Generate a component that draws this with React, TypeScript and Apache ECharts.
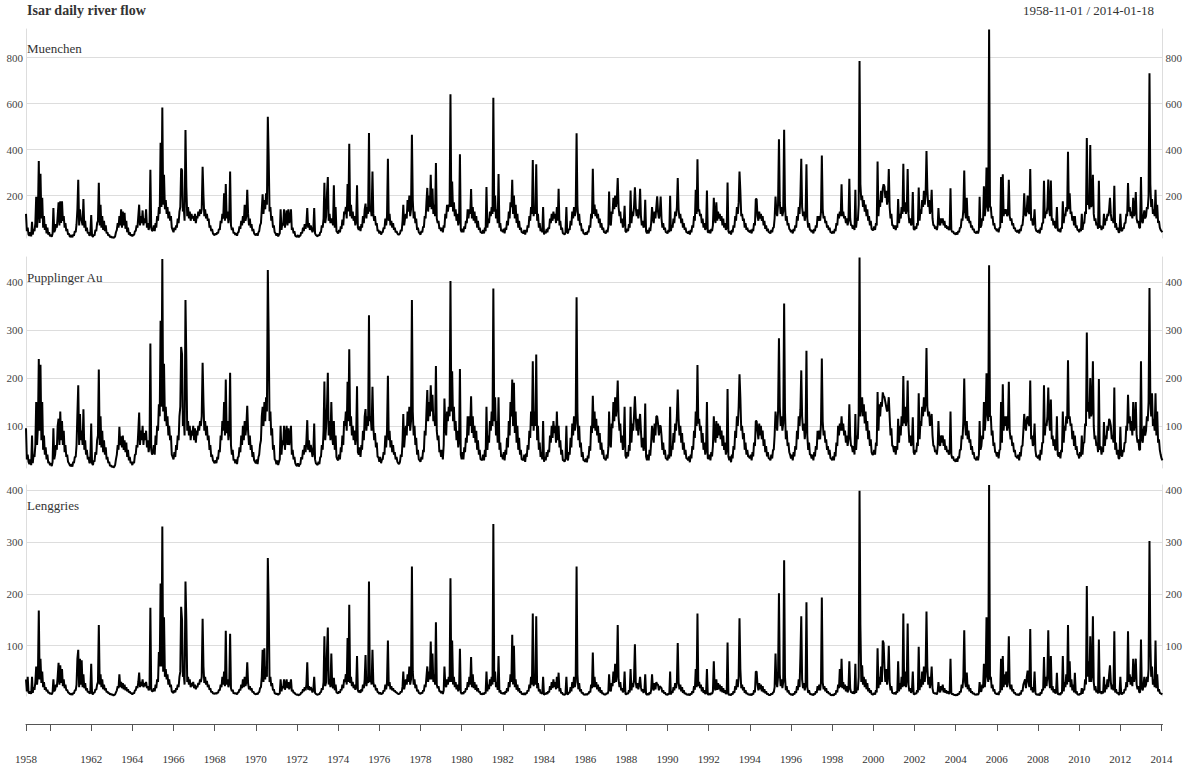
import React, { useEffect, useRef } from "react";
import * as echarts from "echarts";

// ---- data: semi-monthly readings (1st and 16th of each month), one row per year ----
const firstYear = 1958;
const firstSlot = 20; // 1958 row starts on Nov 1
const startDate = "1958-11-01";
const endDate = "2014-01-18";
const seriesNames = ["Muenchen", "Pupplinger Au", "Lenggries"];

const muenchen: number[][] = [
  [120,45,60,30],
  [25,40,22,85,30,55,45,80,195,60,130,350,80,295,100,190,60,110,50,75,35,60,30,40],
  [22,30,20,35,145,40,50,75,60,110,170,70,175,80,175,90,110,60,80,45,55,30,35,22],
  [20,28,18,30,25,45,40,75,140,268,70,140,100,90,70,185,60,90,45,60,35,40,25,30],
  [115,25,20,30,25,50,45,80,90,255,70,160,60,110,50,90,45,70,35,40,25,30,18,22],
  [16,20,15,18,22,40,50,80,60,110,70,140,60,130,70,125,55,90,40,60,30,40,25,30],
  [22,30,28,45,45,70,60,110,160,70,110,80,135,70,100,80,140,60,80,50,70,312,60,45],
  [50,70,45,80,60,110,90,150,120,430,150,583,160,290,140,180,120,150,100,130,90,110,60,50],
  [40,60,50,70,60,100,80,130,150,318,310,130,150,90,485,240,110,150,100,130,90,120,100,110],
  [90,120,80,110,100,130,110,140,120,140,325,200,110,140,100,120,90,100,60,70,45,55,35,30],
  [28,35,30,40,35,55,50,90,80,120,100,210,90,250,100,130,80,110,305,70,50,60,35,40],
  [28,35,25,40,40,65,55,90,70,110,80,160,90,110,225,120,70,100,60,75,45,55,35,30],
  [28,35,25,40,45,70,80,140,205,120,180,140,210,160,543,370,130,150,90,110,60,70,40,35],
  [25,35,22,30,35,140,50,80,70,140,60,100,135,70,140,80,100,140,50,60,35,45,25,22],
  [20,28,18,25,25,40,35,60,45,75,55,80,145,60,80,50,70,55,40,50,145,35,28,25],
  [22,30,25,40,40,70,60,100,255,80,110,210,280,90,120,80,100,90,70,245,60,150,45,40],
  [35,50,40,65,55,95,70,130,120,150,100,250,130,425,110,160,100,130,90,110,70,90,245,60],
  [50,65,45,75,60,110,80,140,165,100,150,120,472,130,150,110,305,120,90,110,70,80,45,50],
  [35,45,30,40,40,60,55,100,70,110,360,90,120,70,90,60,80,50,60,40,45,35,30,30],
  [35,50,45,90,160,70,100,120,100,180,130,200,110,140,464,180,100,130,80,100,50,60,40,35],
  [30,45,40,65,60,110,100,170,233,130,200,150,290,140,230,120,160,110,341,100,80,90,55,60],
  [45,60,40,70,60,120,100,160,130,160,150,641,150,261,130,170,110,140,90,120,70,90,380,50],
  [40,55,40,65,55,90,80,140,100,140,120,228,100,150,90,130,80,110,60,90,50,60,40,40],
  [35,50,35,60,45,237,60,100,80,130,110,150,120,626,130,200,100,140,80,294,60,80,45,50],
  [40,55,35,60,50,90,70,130,100,170,150,268,120,200,100,160,80,120,60,90,50,60,40,40],
  [35,50,30,50,40,70,60,110,90,150,120,355,110,150,120,336,90,120,60,80,45,55,40,150],
  [30,45,35,55,40,60,55,100,80,120,90,130,100,120,80,150,90,229,70,90,50,60,35,35],
  [30,40,150,40,35,55,50,90,70,130,100,150,110,130,471,160,90,120,70,80,45,55,35,35],
  [30,40,30,45,40,70,60,120,100,316,120,160,110,140,100,120,80,100,60,80,50,60,40,40],
  [35,50,40,65,217,80,70,130,120,190,140,200,150,180,276,150,110,130,80,100,60,80,155,45],
  [40,55,45,75,60,222,80,130,110,150,236,150,110,140,100,130,229,110,70,90,60,70,181,45],
  [35,50,35,60,45,80,150,100,80,130,100,150,196,130,100,120,195,100,60,80,50,60,40,40],
  [35,50,40,199,45,70,60,100,80,130,110,150,276,140,100,120,80,100,60,80,50,60,40,40],
  [35,45,30,50,40,70,60,110,90,225,120,358,130,140,110,120,80,100,60,80,50,60,222,40],
  [40,50,35,55,45,70,190,100,80,170,90,130,100,120,90,110,70,100,60,80,50,60,257,45],
  [35,45,30,50,40,70,60,110,90,150,120,170,304,220,110,120,90,100,60,80,50,60,45,45],
  [40,50,35,55,45,80,70,185,185,110,90,130,100,120,90,110,70,90,55,70,45,55,40,40],
  [35,50,40,60,60,100,195,130,110,160,445,170,120,150,110,130,486,160,90,110,70,80,55,50],
  [40,50,35,55,45,70,60,110,90,150,120,200,360,150,110,130,90,120,336,100,60,80,50,50],
  [40,50,35,55,45,70,60,110,90,110,90,130,374,140,100,110,80,90,60,70,50,60,40,40],
  [35,45,35,55,45,80,70,120,100,130,110,249,110,130,100,110,80,100,70,90,273,100,70,70],
  [55,70,50,225,60,100,90,160,786,250,180,200,150,180,130,160,110,140,90,110,70,90,55,50],
  [50,65,50,80,70,348,110,180,150,220,170,230,249,240,190,220,160,190,315,150,100,120,70,70],
  [55,70,50,70,60,185,80,120,100,150,120,338,130,170,120,140,315,120,80,100,70,80,215,55],
  [50,65,55,80,70,235,90,140,120,180,150,220,160,200,394,230,150,180,120,140,225,100,70,70],
  [55,65,50,70,145,80,70,100,80,100,70,90,60,70,55,65,50,55,232,50,40,45,35,35],
  [30,40,30,45,40,60,60,100,90,140,309,130,100,190,90,110,80,90,60,70,50,55,40,40],
  [35,45,35,50,195,60,70,100,90,240,110,150,322,160,130,923,150,150,100,110,70,80,55,55],
  [45,55,40,60,60,280,80,293,110,140,120,140,110,120,268,110,90,100,70,80,55,60,45,45],
  [40,50,35,55,45,70,70,110,210,120,110,140,200,130,120,315,90,100,70,80,140,60,45,45],
  [40,50,35,60,50,80,80,264,100,130,120,150,270,140,110,265,90,100,70,90,60,60,150,50],
  [45,55,40,60,55,175,80,120,110,150,130,391,140,210,120,130,90,110,70,110,60,70,50,50],
  [40,55,45,120,50,80,80,130,120,450,160,180,140,420,150,160,290,120,90,100,70,80,55,264],
  [60,70,50,65,55,120,70,100,90,120,110,140,190,120,90,100,80,242,60,80,50,60,40,40],
  [120,50,45,60,55,80,80,120,110,254,130,150,110,130,100,190,110,130,215,100,80,90,60,60],
  [280,90,80,110,135,100,110,150,140,200,732,250,150,185,120,140,110,225,100,160,80,90,60,50],
  [45,40],
];

const pupplingerAu: number[][] = [
  [95,30,40,25],
  [20,30,18,80,22,40,35,60,150,60,100,240,90,228,70,150,50,80,40,55,30,40,22,25],
  [18,22,16,25,95,30,40,60,50,100,115,60,130,70,110,60,90,45,60,35,40,25,22,18],
  [16,20,15,25,22,35,35,60,125,185,60,125,70,90,60,135,50,70,40,50,30,35,22,25],
  [105,22,18,28,25,45,40,70,80,218,60,120,55,90,45,70,40,55,30,35,22,25,16,18],
  [14,16,13,15,18,30,40,60,50,98,60,78,55,80,50,70,45,65,35,50,28,35,22,25],
  [18,25,22,40,40,60,55,90,128,60,90,70,100,60,85,70,90,55,70,45,60,272,50,40],
  [45,60,40,80,60,100,90,145,120,320,140,449,130,230,110,140,100,120,80,100,70,80,40,35],
  [30,45,35,60,50,80,70,120,140,265,250,100,120,80,363,240,90,110,80,100,70,90,80,100],
  [70,95,65,90,80,100,90,110,100,120,232,150,90,110,80,100,70,80,50,60,35,40,28,25],
  [22,28,22,35,30,50,45,80,70,110,90,150,80,197,85,110,70,90,211,60,40,50,28,30],
  [22,30,20,35,35,55,45,80,60,100,70,110,80,100,142,90,60,80,50,60,35,45,28,25],
  [22,30,20,35,40,60,70,120,140,100,150,110,160,130,426,290,110,130,80,95,50,60,30,28],
  [20,28,18,25,30,100,40,70,60,100,50,80,100,60,95,60,80,100,40,50,30,35,22,18],
  [16,22,15,20,20,35,30,50,40,60,45,70,112,50,70,45,60,50,35,45,105,30,22,20],
  [18,25,20,35,35,60,50,90,193,70,100,140,211,80,110,70,150,80,60,110,50,80,35,30],
  [28,40,30,55,45,80,60,110,100,130,90,192,110,260,100,120,80,100,70,90,60,80,183,45],
  [40,55,35,60,50,90,70,120,135,90,120,100,331,110,120,90,182,100,70,85,55,65,35,35],
  [25,35,22,30,30,45,40,80,55,90,205,70,90,55,70,45,60,40,45,30,35,25,22,20],
  [25,40,35,70,125,55,80,100,80,130,100,140,90,110,363,130,80,100,60,75,40,50,30,28],
  [25,35,30,50,45,90,80,130,175,110,150,120,185,130,165,110,120,100,225,90,70,80,45,50],
  [35,50,30,60,157,100,80,130,110,140,120,403,130,214,110,140,90,110,70,90,55,70,219,40],
  [30,45,30,55,45,75,65,120,80,120,100,162,85,120,75,100,65,90,50,70,40,50,30,30],
  [28,40,28,50,35,140,50,80,65,110,90,130,100,387,110,160,80,110,65,160,50,65,35,40],
  [30,45,28,50,40,75,55,110,80,150,120,197,100,190,85,130,65,100,50,75,40,50,30,30],
  [28,40,25,42,35,60,50,90,75,130,100,235,90,130,100,249,70,100,50,65,35,45,30,110],
  [25,35,28,45,35,50,45,80,65,100,75,110,85,100,65,130,70,100,55,70,40,50,28,28],
  [25,32,100,32,28,45,40,75,55,105,80,120,90,105,369,130,70,100,55,65,35,45,28,28],
  [25,32,24,38,32,58,48,100,85,163,95,130,90,115,80,100,65,85,50,65,40,50,32,32],
  [28,40,32,55,130,65,55,105,95,150,110,160,120,140,195,120,90,105,65,80,50,65,140,38],
  [32,45,36,60,48,140,65,105,90,120,162,120,90,115,80,105,125,90,55,75,48,58,147,36],
  [28,40,28,50,38,65,100,80,65,105,80,120,120,105,80,100,100,80,50,65,40,50,32,32],
  [28,40,32,140,36,58,50,85,65,105,90,120,176,115,80,100,65,85,50,65,40,50,32,32],
  [28,36,24,40,32,58,50,90,75,130,100,227,105,115,90,100,65,85,50,65,40,50,150,32],
  [32,40,28,45,36,58,120,80,65,110,75,105,80,100,72,90,58,80,50,65,40,50,177,36],
  [28,36,24,40,32,58,50,90,75,120,100,140,208,160,90,100,72,85,50,65,40,50,36,36],
  [32,40,28,45,36,65,58,110,110,90,72,105,80,100,72,90,58,72,45,58,36,45,32,32],
  [28,40,32,50,50,80,130,105,90,130,283,140,100,120,90,105,356,130,72,90,58,65,45,40],
  [32,40,28,45,36,58,50,90,72,120,100,135,216,120,90,105,72,95,257,80,50,65,40,40],
  [32,40,28,45,36,58,50,90,72,90,72,105,241,110,80,90,65,72,50,58,40,50,32,32],
  [28,36,28,45,36,65,58,100,80,105,90,120,90,105,80,90,65,80,58,72,145,80,58,58],
  [45,58,40,125,50,80,72,130,452,120,145,160,120,145,105,130,90,110,72,90,58,72,45,40],
  [40,50,40,65,58,171,90,145,120,150,140,170,162,160,150,140,130,140,160,120,80,95,58,58],
  [45,58,40,58,50,115,65,100,80,120,100,204,105,140,100,115,195,100,65,80,58,65,118,45],
  [40,50,45,65,58,168,72,110,100,140,120,160,130,150,263,140,120,130,100,110,125,80,58,58],
  [45,50,40,58,110,65,58,80,65,80,58,72,50,58,45,50,40,45,130,40,32,36,28,28],
  [25,32,25,36,32,50,50,80,72,110,199,105,80,110,72,90,65,72,50,58,40,45,32,32],
  [28,36,28,40,110,50,58,80,72,150,90,120,210,130,110,436,120,120,80,90,58,65,45,45],
  [36,45,32,50,50,150,65,187,90,120,100,120,90,100,192,90,72,80,58,65,45,50,36,36],
  [32,40,28,45,36,58,58,90,125,100,90,115,120,105,100,195,72,80,58,65,105,50,36,36],
  [32,40,28,50,40,65,65,185,80,105,100,120,180,115,90,155,72,80,58,72,50,50,120,40],
  [36,45,32,50,45,130,65,100,90,120,105,237,115,120,100,105,72,90,58,80,50,58,40,40],
  [32,45,36,80,40,65,65,105,100,295,130,150,115,200,120,130,235,100,72,80,58,65,45,198],
  [50,58,40,55,45,108,58,80,72,100,90,115,110,100,72,80,65,180,50,65,40,50,32,32],
  [98,40,36,50,45,65,65,100,90,165,105,120,90,110,80,150,90,110,150,80,65,72,50,50],
  [235,72,65,90,100,80,90,120,110,150,388,155,120,168,100,115,90,168,80,130,65,72,50,40],
  [32,28],
];

const lenggries: number[][] = [
  [35,12,40,10],
  [8,12,7,40,9,20,15,30,60,25,45,168,35,75,28,50,20,30,15,20,12,15,9,10],
  [7,9,6,10,35,12,15,25,20,40,67,25,62,28,55,22,35,18,25,14,15,10,9,7],
  [6,8,5,9,8,14,14,25,75,92,20,75,25,72,20,45,18,28,14,18,10,12,8,9],
  [65,8,6,10,9,16,15,25,30,140,25,45,20,35,16,25,14,18,10,12,8,9,6,7],
  [5,6,4,5,6,10,14,22,18,45,20,30,18,28,16,25,14,20,12,16,10,12,8,9],
  [6,9,8,14,14,22,18,30,48,20,30,22,35,20,28,22,30,18,22,14,18,173,15,12],
  [12,18,12,25,18,35,30,88,60,220,60,330,50,155,40,55,35,45,25,35,20,25,12,10],
  [9,14,10,18,15,25,20,40,50,175,150,40,45,25,224,150,30,40,25,35,20,28,22,30],
  [18,25,16,22,20,28,25,35,30,40,152,60,28,40,25,32,20,25,15,18,10,12,8,8],
  [7,9,7,10,9,15,14,25,20,40,25,50,22,129,25,35,20,28,123,18,12,15,8,9],
  [7,9,6,10,10,16,14,25,18,35,20,40,22,30,68,28,16,22,14,18,10,12,8,7],
  [6,8,6,10,10,18,20,40,92,30,95,35,60,40,269,182,30,40,22,28,14,16,8,8],
  [6,8,5,7,8,35,12,22,18,35,15,25,35,18,30,16,25,35,12,15,9,10,7,6],
  [5,6,4,6,6,10,9,16,12,20,14,25,68,15,22,14,20,16,10,14,40,9,7,6],
  [5,7,6,10,10,18,15,30,118,22,30,90,135,25,35,20,85,25,18,38,14,25,10,9],
  [8,12,9,16,14,25,18,35,30,45,25,115,30,179,28,40,22,30,18,25,15,20,80,14],
  [10,14,9,16,12,25,18,35,82,22,35,28,224,30,40,25,92,30,20,25,14,18,10,10],
  [7,10,6,8,8,14,12,25,16,30,110,22,30,16,22,14,18,12,14,10,10,8,7,7],
  [8,12,10,22,50,16,25,35,25,45,30,60,25,35,253,50,25,35,18,25,12,15,9,8],
  [7,10,8,14,12,25,20,40,60,30,50,35,108,35,85,30,45,25,145,25,18,22,12,12],
  [9,12,7,14,60,25,20,35,25,40,30,230,30,110,25,40,20,30,16,25,12,18,94,10],
  [7,10,7,12,10,18,15,30,20,40,25,78,20,45,18,30,15,25,12,18,10,12,7,7],
  [6,9,6,10,8,50,12,25,16,35,22,40,25,335,30,50,20,30,15,80,10,14,8,9],
  [7,10,6,12,9,18,12,30,20,45,30,121,25,100,20,35,15,25,12,18,9,12,7,7],
  [6,9,5,9,8,14,12,25,18,40,25,162,22,40,25,157,18,28,12,16,8,10,7,40],
  [5,8,6,10,7,12,10,22,15,30,18,35,20,30,16,40,18,48,12,18,8,10,6,6],
  [5,7,40,7,6,10,9,20,12,30,18,40,20,30,253,45,16,28,12,16,8,10,6,6],
  [5,7,5,8,7,12,10,25,18,87,20,40,20,30,16,25,12,20,9,14,7,9,6,6],
  [6,9,7,12,45,15,12,28,22,50,28,65,30,45,140,35,20,30,14,18,10,14,50,7],
  [6,9,7,14,10,55,14,28,20,35,103,30,18,28,16,25,40,20,12,16,9,12,45,7],
  [5,8,5,10,7,14,45,18,14,28,16,30,25,25,14,22,20,18,10,14,8,10,6,6],
  [5,8,6,50,6,12,9,20,14,28,18,30,105,30,16,25,12,20,9,14,7,9,6,6],
  [5,7,4,8,6,12,9,22,15,55,20,162,22,30,18,25,12,20,9,14,7,9,55,6],
  [6,8,5,9,7,12,70,18,14,35,15,28,16,25,12,22,10,18,9,14,7,9,106,6],
  [5,7,4,8,6,12,9,22,15,35,20,40,153,55,18,25,14,20,9,14,7,9,6,6],
  [5,7,4,8,6,14,10,50,50,25,14,28,16,25,12,22,10,16,8,12,6,8,5,5],
  [5,8,6,10,10,20,85,30,20,40,201,45,22,35,18,30,265,40,14,22,10,14,8,7],
  [5,7,4,8,6,12,9,22,14,35,20,80,157,35,18,28,14,25,184,20,9,14,7,7],
  [5,7,4,8,6,12,9,22,14,25,14,30,193,30,16,22,12,18,9,12,7,9,5,5],
  [4,6,4,8,6,14,10,25,18,55,20,75,18,30,16,25,12,22,10,16,70,18,10,10],
  [8,12,7,65,9,18,14,40,399,140,30,62,25,40,20,35,16,28,12,18,9,14,7,6],
  [6,9,6,14,10,95,18,40,25,60,30,110,105,60,30,55,25,45,100,30,14,22,9,9],
  [7,10,6,12,9,70,12,28,16,40,20,162,22,50,20,35,143,25,12,18,9,14,50,7],
  [6,9,7,14,10,98,14,35,20,50,25,60,30,50,166,60,25,40,18,30,60,18,9,9],
  [7,9,6,12,30,14,10,22,14,25,10,18,9,14,8,12,7,10,75,8,6,7,5,5],
  [4,6,4,8,6,12,10,25,18,40,130,30,20,48,16,25,12,18,9,12,7,9,6,6],
  [5,7,5,9,30,12,12,25,18,65,20,40,155,45,30,410,35,40,18,25,12,16,8,8],
  [6,9,5,12,10,75,14,80,20,45,25,50,20,35,118,25,16,25,12,16,8,10,6,6],
  [5,7,4,9,6,14,12,25,30,35,18,40,52,30,20,132,14,20,10,14,50,9,6,6],
  [5,7,4,10,7,16,14,78,18,40,22,45,130,35,18,80,14,22,10,16,8,10,48,7],
  [6,8,5,10,8,80,12,30,20,45,25,140,30,70,20,35,14,25,10,48,8,12,6,6],
  [5,8,6,18,7,16,14,35,25,215,40,70,30,118,30,45,157,30,14,22,10,14,8,112],
  [9,12,7,12,8,40,10,25,16,35,20,45,62,30,16,25,14,128,10,16,8,10,6,6],
  [40,8,6,10,8,16,14,30,20,128,30,45,25,40,22,75,30,45,75,25,16,22,10,10],
  [112,18,14,25,40,20,25,40,30,55,302,108,40,60,25,35,20,110,18,45,12,16,9,8],
  [7,6],
];

const yMin = [15, 12, 3];
const yMax = [925, 453, 410];
const yTicks = [
  [200, 400, 600, 800],
  [100, 200, 300, 400],
  [100, 200, 300, 400],
];
const xTickYears = [1960, 1962, 1964, 1966, 1968, 1970, 1972, 1974, 1976, 1978, 1980, 1982, 1984, 1986, 1988, 1990, 1992, 1994, 1996, 1998, 2000, 2002, 2004, 2006, 2008, 2010, 2012, 2014];
const xLabelYears = [1962, 1964, 1966, 1968, 1970, 1972, 1974, 1976, 1978, 1980, 1982, 1984, 1986, 1988, 1990, 1992, 1994, 1996, 1998, 2000, 2002, 2004, 2006, 2008, 2010, 2012, 2014];

const FONT = '"Liberation Serif", "DejaVu Serif", serif';

function parseDate(s: string): number {
  const [y, m, d] = s.split("-").map(Number);
  return Date.UTC(y, m - 1, d);
}

function toPoints(rows: number[][]): [number, number][] {
  const pts: [number, number][] = [];
  rows.forEach((row, i) => {
    const year = firstYear + i;
    const s0 = i === 0 ? firstSlot : 0;
    row.forEach((v, j) => {
      const s = s0 + j;
      pts.push([Date.UTC(year, Math.floor(s / 2), s % 2 === 0 ? 1 : 16), v]);
    });
  });
  return pts;
}

export default function App() {
  const ref = useRef<HTMLDivElement>(null);

  useEffect(() => {
    if (!ref.current) return;
    const chart = echarts.init(ref.current, null, { renderer: "svg" });
    const xMin = parseDate(startDate);
    const xMax = parseDate(endDate);
    const allSeries = [muenchen, pupplingerAu, lenggries];

    const grids = [
      { top: 29, height: 209 },
      { top: 257, height: 211 },
      { top: 485, height: 211 },
    ].map((g) => ({ ...g, left: 26, right: 21 }));

    const tickValues = [xMin, ...xTickYears.map((y) => Date.UTC(y, 0, 1))];
    const labelValues = [xMin, ...xLabelYears.map((y) => Date.UTC(y, 0, 1))];

    const xAxes = [0, 1, 2].map((i) => ({
      type: "value",
      gridIndex: i,
      min: xMin,
      max: xMax,
      show: i === 2,
      position: "bottom",
      offset: i === 2 ? 28 : 0,
      axisLine: { show: true, onZero: false, lineStyle: { color: "#555", width: 1 } },
      axisTick: { show: true, length: 7, lineStyle: { color: "#555", width: 1 }, customValues: tickValues },
      axisLabel: {
        customValues: labelValues,
        formatter: (v: number) => String(new Date(v).getUTCFullYear()),
        fontFamily: FONT,
        fontSize: 11,
        color: "#333",
        margin: 29,
      },
      splitLine: { show: false },
    }));

    const yAxes: any[] = [];
    [0, 1, 2].forEach((i) => {
      ["left", "right"].forEach((pos) => {
        yAxes.push({
          type: "value",
          gridIndex: i,
          position: pos,
          min: yMin[i],
          max: yMax[i],
          axisLine: { show: true, onZero: false, lineStyle: { color: "#ddd", width: 1 } },
          axisTick: { show: false, customValues: yTicks[i] },
          axisLabel: {
            customValues: yTicks[i],
            fontFamily: FONT,
            fontSize: 11,
            color: "#444",
            margin: 3,
          },
          splitLine: { show: pos === "left", lineStyle: { color: "#ddd", width: 1 } },
        });
      });
    });

    const series = allSeries.map((rows, i) => ({
      type: "line",
      name: seriesNames[i],
      xAxisIndex: i,
      yAxisIndex: i * 2,
      data: toPoints(rows),
      showSymbol: false,
      symbol: "none",
      silent: true,
      lineStyle: { color: "#000", width: 2 },
    }));

    const labelTops = [42, 271, 499];
    const graphic: any[] = [
      {
        type: "text",
        left: 27,
        top: 3,
        style: { text: "Isar daily river flow", font: `bold 14px ${FONT}`, fill: "#333" },
      },
      {
        type: "text",
        right: 31,
        top: 4,
        style: { text: `${startDate} / ${endDate}`, font: `13px ${FONT}`, fill: "#333" },
      },
      ...seriesNames.map((name, i) => ({
        type: "text",
        left: 27,
        top: labelTops[i],
        z: 10,
        style: { text: name, font: `13px ${FONT}`, fill: "#333" },
      })),
    ];

    chart.setOption({
      animation: false,
      backgroundColor: "#fff",
      grid: grids,
      xAxis: xAxes,
      yAxis: yAxes,
      series,
      graphic,
    });

    return () => chart.dispose();
  }, []);

  return (
    <div
      ref={ref}
      style={{ position: "fixed", left: 0, top: 0, width: 1185, height: 767 }}
    />
  );
}
